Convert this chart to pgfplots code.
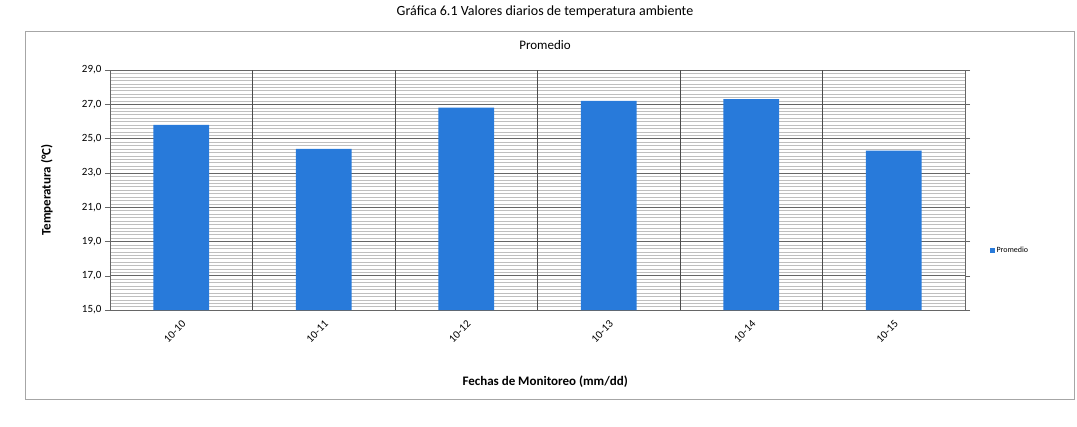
\documentclass[border=0pt]{standalone}
\usepackage{pgfplots}
\pgfplotsset{compat=1.18}
\usepackage{fontspec}
\setmainfont{Carlito}
\definecolor{barblue}{RGB}{40,122,218}
\begin{document}
\begin{tikzpicture}[x=1pt,y=1pt]
\useasboundingbox (0,0) rectangle (1077,426);
\draw[gray!70, line width=1pt] (25,26) rectangle (1074,394);
\node[font=\fontsize{14}{16}\selectfont] at (545,414) {Gráfica 6.1 Valores diarios de temperatura ambiente};
\node[font=\fontsize{13}{15}\selectfont] at (545,381) {Promedio};
\begin{axis}[
  at={(110pt,116pt)}, anchor=south west,
  scale only axis, width=855pt, height=240pt,
  xmin=-0.5, xmax=5.5, ymin=15, ymax=29,
  ytick={15,17,...,29},
  yticklabel style={/pgf/number format/.cd, fixed, fixed zerofill, precision=1, use comma},
  /pgf/number format/assume math mode=true,
  ticklabel style={font=\fontsize{11}{13}\selectfont},
  xtick={0,...,5},
  xticklabels={10-10,10-11,10-12,10-13,10-14,10-15},
  xticklabel style={rotate=45, anchor=north east},
  major x tick style={draw=none},
  extra x ticks={0.5,1.5,2.5,3.5,4.5},
  extra x tick labels={},
  extra x tick style={grid=major, major grid style={black!70, line width=0.6pt}, tick style={black!70}},
  ymajorgrids, yminorgrids, minor y tick num=9,
  major grid style={black!60, line width=0.6pt},
  minor grid style={black!25, line width=0.4pt},
  axis line style={black!60},
  tick align=outside, major tick length=5pt, minor tick length=0pt,
  ytick style={black!60},
  xlabel={\textbf{Fechas de Monitoreo (mm/dd)}},
  ylabel={\textbf{Temperatura (°C)}},
  label style={font=\fontsize{13}{15}\selectfont},
  xlabel style={at={(axis description cs:0.509,-0.30)}, anchor=center},
  ylabel style={at={(axis description cs:-0.074,0.5)}, anchor=center},
  legend style={at={(1.025,0.25)}, anchor=west, draw=none, fill=none, font=\fontsize{8}{10}\selectfont},
  legend image code/.code={\fill[barblue] (0pt,-2.5pt) rectangle (5pt,2.5pt);},
]
\addplot[ybar, bar width=0.39, fill=barblue, draw=none] coordinates {
 (0,25.8) (1,24.4) (2,26.8) (3,27.2) (4,27.3) (5,24.3)};
\addlegendentry{Promedio}
\end{axis}
\end{tikzpicture}
\end{document}
